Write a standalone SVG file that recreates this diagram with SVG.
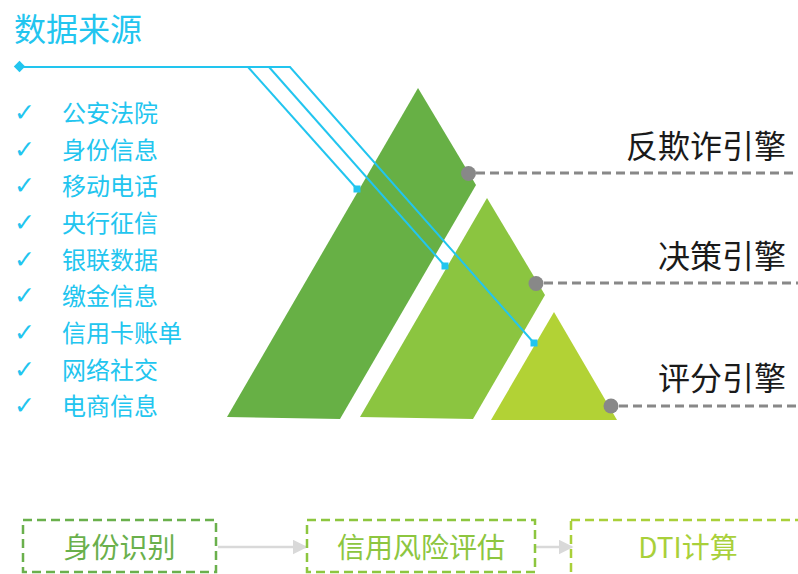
<svg xmlns="http://www.w3.org/2000/svg" width="798" height="574" viewBox="0 0 798 574">
<defs>
<style>
.cjk{font-family:"Noto Sans CJK SC","Noto Sans",sans-serif;}
.blue{fill:#22c5ef;}
.item{font-size:24px;fill:#22c5ef;}
.chk{font-family:"DejaVu Sans",sans-serif;font-size:25px;fill:#22c5ef;}
.eng{font-size:32px;fill:#1a1a1a;text-anchor:end;}
.bl{fill:none;stroke:#22c5ef;stroke-width:2;}
.dash{fill:none;stroke:#888;stroke-width:3;stroke-dasharray:9 5;}
.dot{fill:#888;}
.sq{fill:#22c5ef;}
.box{fill:none;stroke-width:2.5;stroke-dasharray:9 5;}
.arr{fill:none;stroke:#d9d9d9;stroke-width:2.5;marker-end:url(#ah);}
.btxt{font-size:28px;text-anchor:middle;}
</style>
<marker id="ah" viewBox="0 0 10 10" refX="9" refY="5" markerWidth="6" markerHeight="6" markerUnits="strokeWidth" orient="auto">
<path d="M0,0 L10,5 L0,10 z" fill="#d9d9d9"/>
</marker>
</defs>
<rect width="798" height="574" fill="#fff"/>

<g id="title">
<text class="cjk blue" x="14" y="41" font-size="32">数据来源</text>
<rect x="15.5" y="62.5" width="8" height="8" transform="rotate(45 19.5 66.5)" fill="#22c5ef"/>
</g>

<g id="sources">
<g id="src1"><text class="chk" x="14" y="121">✓</text><text class="cjk item" x="62" y="122">公安法院</text></g>
<g id="src2"><text class="chk" x="14" y="158">✓</text><text class="cjk item" x="62" y="159">身份信息</text></g>
<g id="src3"><text class="chk" x="14" y="194">✓</text><text class="cjk item" x="62" y="195">移动电话</text></g>
<g id="src4"><text class="chk" x="14" y="231">✓</text><text class="cjk item" x="62" y="232">央行征信</text></g>
<g id="src5"><text class="chk" x="14" y="268">✓</text><text class="cjk item" x="62" y="269">银联数据</text></g>
<g id="src6"><text class="chk" x="14" y="304">✓</text><text class="cjk item" x="62" y="305">缴金信息</text></g>
<g id="src7"><text class="chk" x="14" y="341">✓</text><text class="cjk item" x="62" y="342">信用卡账单</text></g>
<g id="src8"><text class="chk" x="14" y="378">✓</text><text class="cjk item" x="62" y="379">网络社交</text></g>
<g id="src9"><text class="chk" x="14" y="414">✓</text><text class="cjk item" x="62" y="415">电商信息</text></g>
</g>

<g id="pyramid">
<polygon id="tier1" points="418,88 476,185 340,419 227,417" fill="#67b045"/>
<polygon id="tier2" points="487,198 545,295 473,419 360,417" fill="#8bc540"/>
<polygon id="tier3" points="554,312 617,420 491,420" fill="#b2d235"/>
</g>

<g id="connectors">
<polyline class="bl" points="20,67 290,67 534,343"/>
<line class="bl" x1="248" y1="67" x2="357" y2="189"/>
<line class="bl" x1="269" y1="67" x2="445" y2="266"/>
<rect class="sq" x="353.5" y="185.5" width="7" height="7"/>
<rect class="sq" x="441.5" y="262.5" width="7" height="7"/>
<rect class="sq" x="530.5" y="339.5" width="7" height="7"/>
<line class="dash" x1="476" y1="173" x2="798" y2="173"/>
<line class="dash" x1="544" y1="283" x2="798" y2="283"/>
<line class="dash" x1="619" y1="406" x2="798" y2="406"/>
<circle class="dot" cx="468.5" cy="173.5" r="7.5"/>
<circle class="dot" cx="536" cy="283.5" r="7.5"/>
<circle class="dot" cx="611" cy="406" r="7.5"/>
<line class="arr" x1="218" y1="547" x2="306" y2="547"/>
<line class="arr" x1="536" y1="547" x2="572" y2="547"/>
</g>

<g id="engines">
<text id="eng1" class="cjk eng" x="786" y="158">反欺诈引擎</text>
<text id="eng2" class="cjk eng" x="786" y="268">决策引擎</text>
<text id="eng3" class="cjk eng" x="786" y="390">评分引擎</text>
</g>

<g id="box1">
<rect class="box" x="23" y="520" width="193" height="52" stroke="#6ab04c"/>
<text class="cjk btxt" x="119.5" y="558" fill="#6ab04c">身份识别</text>
</g>
<g id="box2">
<rect class="box" x="307" y="520" width="228" height="52" stroke="#8dc63f"/>
<text class="cjk btxt" x="421" y="558" fill="#8dc63f">信用风险评估</text>
</g>
<g id="box3">
<rect class="box" x="571" y="520" width="260" height="60" stroke="#a9d03a"/>
<text class="cjk btxt" x="688" y="558" fill="#a9d03a">DTI计算</text>
</g>
</svg>
